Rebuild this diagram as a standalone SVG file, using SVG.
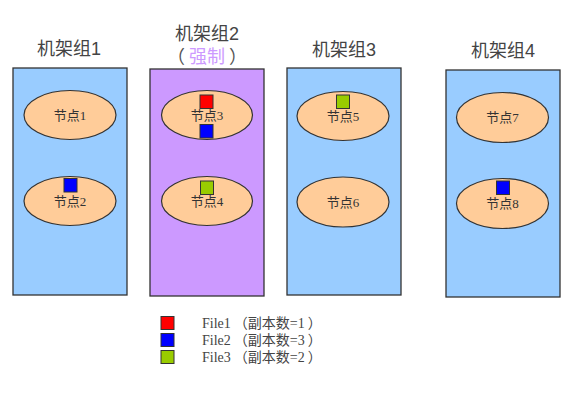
<svg xmlns="http://www.w3.org/2000/svg" width="570" height="405" viewBox="0 0 570 405">
<style>
.rack{stroke:#333;stroke-width:1.3}
.blue{fill:#99ccff}
.purple{fill:#cc99ff}
.node{fill:#ffcc99;stroke:#333;stroke-width:1.2}
.title{font-family:"Liberation Sans","Noto Sans CJK SC",sans-serif;font-size:18px;fill:#444;text-anchor:middle}
.lbl{font-family:"Liberation Serif","Noto Sans CJK SC",serif;font-size:13px;fill:#333;text-anchor:middle}
.leg{font-family:"Liberation Serif","Noto Sans CJK SC",serif;font-size:14px;fill:#444}
.sq{stroke:#333;stroke-width:1}
.r{fill:#ff0000}.b{fill:#0000ff}.g{fill:#99cc00}
</style>
<rect width="570" height="405" fill="#fff"/>
<g id="rack1">
<rect class="rack blue" x="13" y="68" width="114" height="227"/>
<text class="title" x="69" y="55">机架组1</text>
</g>
<g id="rack2">
<rect class="rack purple" x="150" y="69" width="114" height="227"/>
<text class="title" x="207" y="40">机架组2</text>
<text class="title" x="207" y="63"><tspan fill="#555">（</tspan><tspan fill="#cc99ff" dx="4">强制</tspan><tspan fill="#555" dx="4">）</tspan></text>
</g>
<g id="rack3">
<rect class="rack blue" x="287" y="68" width="114" height="227"/>
<text class="title" x="344" y="56">机架组3</text>
</g>
<g id="rack4">
<rect class="rack blue" x="446" y="70" width="114" height="227"/>
<text class="title" x="503" y="57">机架组4</text>
</g>
<g id="node1"><ellipse class="node" cx="70" cy="115" rx="46" ry="24.5"/><text class="lbl" x="70" y="120">节点1</text></g>
<g id="node2"><ellipse class="node" cx="70" cy="201" rx="46" ry="24.5"/><text class="lbl" x="70" y="206">节点2</text><rect class="sq b" x="64" y="178.5" width="13" height="13.5"/></g>
<g id="node3"><ellipse class="node" cx="207" cy="115" rx="45.5" ry="24.5"/><text class="lbl" x="207" y="120">节点3</text><rect class="sq r" x="200" y="95" width="13" height="13.5"/><rect class="sq b" x="200" y="124.5" width="13" height="13.5"/></g>
<g id="node4"><ellipse class="node" cx="207" cy="201" rx="45.5" ry="24.5"/><text class="lbl" x="207" y="206">节点4</text><rect class="sq g" x="200.5" y="181" width="13" height="13.5"/></g>
<g id="node5"><ellipse class="node" cx="343" cy="116" rx="46" ry="24.5"/><text class="lbl" x="343" y="121">节点5</text><rect class="sq g" x="336.5" y="95" width="13" height="13.5"/></g>
<g id="node6"><ellipse class="node" cx="343" cy="202" rx="46" ry="25"/><text class="lbl" x="343" y="207">节点6</text></g>
<g id="node7"><ellipse class="node" cx="502.5" cy="117.5" rx="46" ry="25"/><text class="lbl" x="502.5" y="122">节点7</text></g>
<g id="node8"><ellipse class="node" cx="502.5" cy="203.5" rx="46" ry="25"/><text class="lbl" x="502.5" y="208">节点8</text><rect class="sq b" x="496.5" y="181" width="13" height="13.5"/></g>
<g id="legend">
<rect class="sq r" x="161" y="316.5" width="13" height="13"/>
<rect class="sq b" x="161" y="333.5" width="13" height="13"/>
<rect class="sq g" x="161" y="350.5" width="13" height="13"/>
<text class="leg" x="202" y="328">File1<tspan dx="3">（副本数=1</tspan><tspan dx="3">）</tspan></text>
<text class="leg" x="202" y="345">File2<tspan dx="3">（副本数=3</tspan><tspan dx="3">）</tspan></text>
<text class="leg" x="202" y="362">File3<tspan dx="3">（副本数=2</tspan><tspan dx="3">）</tspan></text>
</g>
</svg>
